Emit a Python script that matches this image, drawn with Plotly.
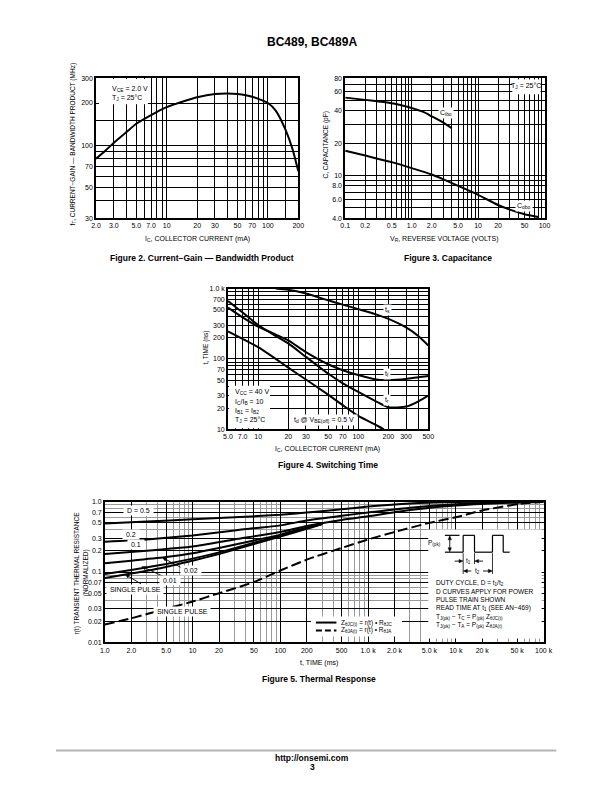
import plotly.graph_objects as go
import math

W, H = 612, 792
FONT = "Liberation Sans Narrow, Arial Narrow, Liberation Sans, Arial, sans-serif"
BOLD = "Liberation Sans, Arial, sans-serif"

# ---------------- Figure 2: fT vs IC ----------------
fig2_ic_ma = [2.0, 2.5, 3.0, 4.0, 5.0, 7.0, 10, 15, 20, 30, 40, 50, 70, 100, 120, 150, 175, 200]
fig2_ft_mhz = [80, 92, 104, 124, 142, 164, 187, 207, 220, 232, 234, 232, 222, 200, 176, 128, 94, 65]
fig2_xtickvals = [2, 3, 5, 7, 10, 20, 30, 50, 70, 100, 200]
fig2_xticktext = ["2.0", "3.0", "5.0", "7.0", "10", "20", "30", "50", "70", "100", "200"]
fig2_xminor = [4, 6, 8, 9, 40, 60, 80, 90, 150]
fig2_ytickvals = [30, 50, 70, 100, 200, 300]
fig2_yticktext = ["30", "50", "70", "100", "200", "300"]
fig2_yminor = [40, 60, 80, 90, 150]

# ---------------- Figure 3: Capacitance ----------------
fig3_cibo_v = [0.1, 0.2, 0.3, 0.5, 0.7, 1.0, 1.5, 2.0, 3.0, 4.0]
fig3_cibo_pf = [53, 50.5, 49, 47, 45, 42.5, 39, 35.5, 31, 27.5]
fig3_cobo_v = [0.1, 0.2, 0.5, 1.0, 2.0, 3.0, 5.0, 10, 20, 30, 50, 80]
fig3_cobo_pf = [17, 15.3, 13.3, 11.7, 10.2, 9.2, 8.0, 6.6, 5.3, 4.8, 4.35, 4.1]
fig3_xtickvals = [0.1, 0.2, 0.5, 1.0, 2.0, 5.0, 10, 20, 50, 100]
fig3_xticktext = ["0.1", "0.2", "0.5", "1.0", "2.0", "5.0", "10", "20", "50", "100"]
fig3_xminor = [0.3, 0.4, 0.6, 0.7, 0.8, 0.9, 3, 4, 6, 7, 8, 9, 30, 40, 60, 70, 80, 90]
fig3_ytickvals = [4, 6, 8, 10, 20, 40, 60, 80]
fig3_yticktext = ["4.0", "6.0", "8.0", "10", "20", "40", "60", "80"]
fig3_yminor = [5, 7, 9, 30, 50, 70]

# ---------------- Figure 4: Switching time ----------------
fig4_ts_ic = [15, 20, 30, 50, 70, 100, 150, 200, 300, 400, 500]
fig4_ts_ns = [1000, 960, 850, 680, 590, 510, 430, 370, 280, 210, 155]
fig4_ic = [5, 7, 10, 15, 20, 30, 50, 70, 100, 150, 200, 300, 400, 500]
fig4_tf_ns = [536, 390, 288, 222, 183, 125, 84, 69, 59, 51, 50, 52, 55, 57]
fig4_tr_ns = [665, 456, 303, 212, 166, 107, 62, 45, 34, 25, 20.5, 21, 25, 30]
fig4_td_ic = [5, 7, 10, 15, 20, 30, 50, 70, 100, 150, 180]
fig4_td_ns = [247, 193, 147, 100, 75, 51, 31, 22, 15.5, 11.5, 10]
fig4_xtickvals = [5, 7, 10, 20, 30, 50, 70, 100, 200, 300, 500]
fig4_xticktext = ["5.0", "7.0", "10", "20", "30", "50", "70", "100", "200", "300", "500"]
fig4_xminor = [6, 8, 9, 40, 60, 80, 90, 150, 400]
fig4_ytickvals = [10, 20, 30, 50, 70, 100, 200, 300, 500, 700, 1000]
fig4_yticktext = ["10", "20", "30", "50", "70", "100", "200", "300", "500", "700", "1.0 k"]
fig4_yminor = [40, 60, 80, 90, 400, 600, 800, 900]

# ---------------- Figure 5: Thermal response ----------------
fig5_t_long = [1, 3, 10, 30, 100, 200, 500, 1000, 3000, 10000, 30000, 100000]
fig5_d05 = [0.49, 0.52, 0.56, 0.60, 0.65, 0.70, 0.78, 0.85, 0.94, 0.985, 1.0, 1.0]
fig5_d02 = [0.27, 0.29, 0.33, 0.39, 0.46, 0.54, 0.63, 0.70, 0.82, 0.92, 0.97, 1.0]
fig5_d01 = [0.18, 0.20, 0.23, 0.29, 0.37, 0.45, 0.55, 0.62, 0.76, 0.88, 0.95, 0.99]
fig5_t_short = [1, 2, 5, 10, 20, 50, 100, 200, 300]
fig5_d002 = [0.133, 0.145, 0.163, 0.185, 0.22, 0.28, 0.34, 0.43, 0.48]
fig5_d001 = [0.094, 0.107, 0.13, 0.155, 0.19, 0.26, 0.33, 0.42, 0.48]
fig5_sp = [0.082, 0.095, 0.118, 0.145, 0.18, 0.25, 0.32, 0.41, 0.48]
fig5_ja_t = [1, 2, 5, 10, 20, 50, 100, 200, 500, 1000, 2000, 5000, 10000, 20000, 50000, 100000]
fig5_ja_r = [0.018, 0.022, 0.03, 0.038, 0.05, 0.072, 0.105, 0.15, 0.22, 0.29, 0.37, 0.5, 0.6, 0.75, 0.92, 1.0]
fig5_xtickvals = [1, 2, 5, 10, 20, 50, 100, 200, 500, 1000, 2000, 5000, 10000, 20000, 50000, 100000]
fig5_xticktext = ["1.0", "2.0", "5.0", "10", "20", "50", "100", "200", "500", "1.0 k", "2.0 k",
                  "5.0 k", "10 k", "20 k", "50 k", "100 k"]
fig5_ytickvals = [0.01, 0.02, 0.03, 0.05, 0.07, 0.1, 0.2, 0.3, 0.5, 0.7, 1.0]
fig5_yticktext = ["0.01", "0.02", "0.03", "0.05", "0.07", "0.1", "0.2", "0.3", "0.5", "0.7", "1.0"]
fig5_xminor = [m * 10 ** d for d in range(5) for m in (3, 4, 6, 7, 8, 9)]
fig5_yminor = [0.04, 0.06, 0.08, 0.09, 0.4, 0.6, 0.8, 0.9]


def px(x):
    return x / W


def py(y):
    return 1 - y / H


def lg(v):
    return math.log10(v)


def axis(dom, lo, hi, tv, tt, minor, anchor, mcolor="black", gcolor="black"):
    return dict(type="log", domain=dom, range=[lg(lo) - 1e-4, lg(hi) + 1e-4],
                tickvals=tv, ticktext=tt, showgrid=True, gridcolor=gcolor, gridwidth=1.1,
                minor=dict(tickvals=minor, showgrid=True, gridcolor=mcolor, gridwidth=1.1, ticks=""),
                showline=True, linecolor="black", linewidth=1.6, mirror=True,
                ticks="", tickfont=dict(family=FONT, size=7, color="black"),
                zeroline=False, anchor=anchor, fixedrange=True)


fig = go.Figure()
LINE = dict(color="black", width=2)

fig.add_trace(go.Scatter(x=fig2_ic_ma, y=fig2_ft_mhz, mode="lines", line=dict(shape="spline", smoothing=0.6, **LINE),
                         xaxis="x", yaxis="y", showlegend=False))
fig.add_trace(go.Scatter(x=fig3_cibo_v, y=fig3_cibo_pf, mode="lines", line=dict(shape="spline", smoothing=0.6, **LINE),
                         xaxis="x2", yaxis="y2", showlegend=False))
fig.add_trace(go.Scatter(x=fig3_cobo_v, y=fig3_cobo_pf, mode="lines", line=dict(shape="spline", smoothing=0.6, **LINE),
                         xaxis="x2", yaxis="y2", showlegend=False))
for xs, ys in [(fig4_ts_ic, fig4_ts_ns), (fig4_ic, fig4_tf_ns), (fig4_ic, fig4_tr_ns), (fig4_td_ic, fig4_td_ns)]:
    fig.add_trace(go.Scatter(x=xs, y=ys, mode="lines", line=dict(shape="spline", smoothing=0.6, **LINE),
                             xaxis="x3", yaxis="y3", showlegend=False))
for ys in [fig5_d05, fig5_d02, fig5_d01]:
    fig.add_trace(go.Scatter(x=fig5_t_long, y=ys, mode="lines", line=dict(shape="spline", smoothing=0.5, **LINE),
                             xaxis="x4", yaxis="y4", showlegend=False))
for ys in [fig5_d002, fig5_d001, fig5_sp]:
    fig.add_trace(go.Scatter(x=fig5_t_short, y=ys, mode="lines", line=dict(shape="spline", smoothing=0.5, **LINE),
                             xaxis="x4", yaxis="y4", showlegend=False))
fig.add_trace(go.Scatter(x=fig5_ja_t, y=fig5_ja_r, mode="lines",
                         line=dict(color="black", width=2, dash="10px,4px", shape="spline", smoothing=0.5),
                         xaxis="x4", yaxis="y4", showlegend=False))

shapes = []
ann = []


def rect(x0, y0, x1, y1):
    shapes.append(dict(type="rect", xref="paper", yref="paper", x0=px(x0), x1=px(x1), y0=py(y1), y1=py(y0),
                       fillcolor="white", line=dict(width=0), layer="above"))


def seg(x0, y0, x1, y1, width=1.2, dash=None, color="black"):
    d = dict(type="line", xref="paper", yref="paper", x0=px(x0), x1=px(x1), y0=py(y0), y1=py(y1),
             line=dict(color=color, width=width), layer="above")
    if dash:
        d["line"]["dash"] = dash
    shapes.append(d)


def text(x, y, t, size=7, anchor="center", bold=False, bg=None, angle=0):
    a = dict(xref="paper", yref="paper", x=px(x), y=py(y), text=t, showarrow=False,
             xanchor=anchor, yanchor="middle", textangle=angle,
             font=dict(family=BOLD if bold else FONT, size=size, color="black"))
    if bg:
        a["bgcolor"] = bg
        a["borderpad"] = 1
    ann.append(a)


def arrow(xh, yh, xt, yt, hl=4.0, hw=1.7):
    # line from tail to head with a small filled triangular head
    dx, dy = xh - xt, yh - yt
    n = math.hypot(dx, dy)
    ux, uy = dx / n, dy / n
    bx, by = xh - ux * hl, yh - uy * hl
    seg(xt, yt, bx, by, width=0.9)
    p1 = (bx - uy * hw, by + ux * hw)
    p2 = (bx + uy * hw, by - ux * hw)
    path = "M {} {} L {} {} L {} {} Z".format(px(xh), py(yh), px(p1[0]), py(p1[1]), px(p2[0]), py(p2[1]))
    shapes.append(dict(type="path", xref="paper", yref="paper", path=path,
                       fillcolor="black", line=dict(width=0.5, color="black"), layer="above"))


# Header / footer
text(306, 30, "<b>BC489, BC489A</b>", size=12, bold=True)
seg(44, 745, 556, 745, width=2, color="#b5b5b5")
text(306, 753, "<b>http://onsemi.com</b>", size=8.5, bold=True)
text(306, 762, "<b>3</b>", size=8.5, bold=True)

# Figure 2 text
rect(88, 67.5, 138, 93)
text(99, 78, "V<sub>CE</sub> = 2.0 V", anchor="left")
text(99, 87, "T<sub>J</sub> = 25°C", anchor="left")
text(61, 134, "f<sub>T</sub>, CURRENT−GAIN — BANDWIDTH PRODUCT (MHz)", size=6.5, angle=-90)
text(189, 229, "I<sub>C</sub>, COLLECTOR CURRENT (mA)", size=7)
text(193, 248, "<b>Figure 2. Current−Gain — Bandwidth Product</b>", size=8.5, bold=True)

# Figure 3 text
rect(511, 68, 540, 83)
text(525, 75, "T<sub>J</sub> = 25°C")
text(443, 102, "C<sub>ibo</sub>", bg="white")
text(523, 196, "C<sub>obo</sub>", bg="white")
text(320, 134, "C, CAPACITANCE (pF)", size=6.5, angle=-90)
text(442, 229, "V<sub>R</sub>, REVERSE VOLTAGE (VOLTS)", size=7)
text(445, 248, "<b>Figure 3. Capacitance</b>", size=8.5, bold=True)

# Figure 4 text
text(383, 301, "t<sub>s</sub>", bg="white")
text(383, 365, "t<sub>f</sub>", bg="white")
text(383, 391, "t<sub>r</sub>", bg="white")
rect(221, 377, 263, 420)
text(225, 383, "V<sub>CC</sub> = 40 V", anchor="left")
text(225, 393, "I<sub>C</sub>/I<sub>B</sub> = 10", anchor="left")
text(225, 403, "I<sub>B1</sub> = I<sub>B2</sub>", anchor="left")
text(225, 412, "T<sub>J</sub> = 25°C", anchor="left")
text(318, 412, " t<sub>d</sub> @ V<sub>BE(off)</sub> = 0.5 V ", bg="white")
text(198, 338, "t, TIME (ns)", size=6.5, angle=-90)
text(322, 441, "I<sub>C</sub>, COLLECTOR CURRENT (mA)", size=7)
text(322, 457, "<b>Figure 4. Switching Time</b>", size=8.5, bold=True)

# Figure 5 text
text(128, 503, " D = 0.5 ", bg="white")
text(121, 527, " 0.2 ", bg="white")
text(126, 537, " 0.1 ", bg="white")
text(182, 563, " 0.02 ", bg="white")
text(161, 574, " 0.01 ", bg="white")
text(125, 583, " SINGLE PULSE ", bg="white")
text(173, 605, " SINGLE PULSE ", bg="white")
arrow(153, 550.5, 173, 561)
arrow(132, 559.5, 154, 569.5)
arrow(115, 567.5, 131, 577)

# legend box
rect(305, 610, 398, 630)
seg(310, 616, 331, 616, width=2)
seg(310, 624, 331, 624, width=2, dash="6px,3px")
text(334, 616, "Z<sub>θJC(t)</sub> = r(t) • R<sub>θJC</sub>", size=6.5, anchor="left")
text(334, 624, "Z<sub>θJA(t)</sub> = r(t) • R<sub>θJA</sub>", size=6.5, anchor="left")

# inset
rect(425, 522, 541, 632)
seg(442, 528, 457, 528)
seg(442, 545, 460.7, 545)
wave = [(460.7, 545), (460.7, 528), (472.3, 528), (472.3, 545), (490.7, 545), (490.7, 528),
        (501.7, 528), (501.7, 545), (508.3, 545)]
for (a, b), (c, d) in zip(wave[:-1], wave[1:]):
    seg(a, b, c, d)
arrow(447, 528.5, 447, 537)
arrow(447, 544.5, 447, 537)
text(440, 536, "P<sub>(pk)</sub>", size=6.5, anchor="right")
seg(460.7, 546, 460.7, 567, width=0.8)
seg(472.3, 546, 472.3, 557, width=0.8)
seg(490.7, 546, 490.7, 567, width=0.8)
arrow(460.5, 554, 452, 554)
arrow(472.5, 554, 481, 554)
text(466.5, 554, "t<sub>1</sub>", size=6.5)
arrow(461, 564, 469, 564)
arrow(490.5, 564, 481, 564)
text(475, 564, "t<sub>2</sub>", size=6.5, bg="white")
inset_lines = [
    (576, "DUTY CYCLE, D = t<sub>1</sub>/t<sub>2</sub>"),
    (584.5, "D CURVES APPLY FOR POWER"),
    (593, "PULSE TRAIN SHOWN"),
    (601.5, "READ TIME AT t<sub>1</sub> (SEE AN−469)"),
    (610.5, "T<sub>J(pk)</sub> − T<sub>C</sub> = P<sub>(pk)</sub> Z<sub>θJC(t)</sub>"),
    (618.5, "T<sub>J(pk)</sub> − T<sub>A</sub> = P<sub>(pk)</sub> Z<sub>θJA(t)</sub>"),
]
for yy, t in inset_lines:
    text(431, yy, t, size=6.5, anchor="left")

text(66, 566, "r(t) TRANSIENT THERMAL RESISTANCE", size=6.5, angle=-90)
text(75, 566, "(NORMALIZED)", size=6.5, angle=-90)
text(313, 657, "t, TIME (ms)", size=7)
text(313, 673, "<b>Figure 5. Thermal Response</b>", size=8.5, bold=True)

fig.update_layout(
    width=W, height=H, margin=dict(l=0, r=0, t=0, b=0),
    paper_bgcolor="white", plot_bgcolor="white",
    font=dict(family=FONT, size=7, color="black"),
    xaxis=axis([px(85), px(292)], 2, 200, fig2_xtickvals, fig2_xticktext, fig2_xminor, "y"),
    yaxis=axis([py(208), py(67)], 30, 300, fig2_ytickvals, fig2_yticktext, fig2_yminor, "x"),
    xaxis2=axis([px(340), px(544)], 0.1, 100, fig3_xtickvals, fig3_xticktext, fig3_xminor, "y2"),
    yaxis2=axis([py(208), py(67)], 4, 80, fig3_ytickvals, fig3_yticktext, fig3_yminor, "x2"),
    xaxis3=axis([px(220), px(425)], 5, 500, fig4_xtickvals, fig4_xticktext, fig4_xminor, "y3"),
    yaxis3=axis([py(421), py(279)], 10, 1000, fig4_ytickvals, fig4_yticktext, fig4_yminor, "x3"),
    xaxis4=axis([px(94), px(543)], 1, 100000, fig5_xtickvals, fig5_xticktext, fig5_xminor, "y4", mcolor="#9a9a9a"),
    yaxis4=axis([py(636), py(494)], 0.01, 1.0, fig5_ytickvals, fig5_yticktext, fig5_yminor, "x4", mcolor="#9a9a9a"),
    shapes=shapes, annotations=ann,
)

fig.write_html("out.html")
